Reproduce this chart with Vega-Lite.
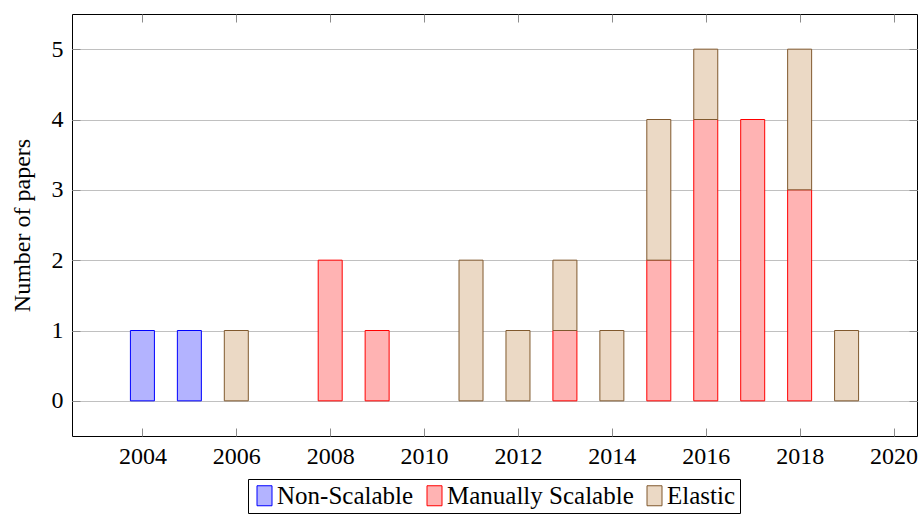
{
  "$schema": "https://vega.github.io/schema/vega-lite/v6.json",
  "width": 845,
  "height": 422,
  "autosize": {"type": "none"},
  "padding": {"left": 72, "top": 14, "right": 2, "bottom": 80},
  "config": {
    "font": "Liberation Serif",
    "view": {"stroke": "black", "strokeWidth": 1},
    "style": {"guide-label": {"font": "Liberation Serif"}, "guide-title": {"font": "Liberation Serif"}},
    "axis": {
      "labelFont": "Liberation Serif",
      "titleFont": "Liberation Serif",
      "labelFontSize": 24,
      "titleFontSize": 24,
      "titleFontWeight": "normal",
      "labelColor": "black",
      "titleColor": "black",
      "domain": false,
      "tickColor": "#8c8c8c",
      "tickSize": -8,
      "gridColor": "#c0c0c0",
      "gridWidth": 1
    },
    "legend": {
      "labelFont": "Liberation Serif",
      "labelFontSize": 25,
      "symbolSize": 400
    }
  },
  "data": {
    "values": [
      {"year": 2004, "category": "Non-Scalable", "papers": 1},
      {"year": 2005, "category": "Non-Scalable", "papers": 1},
      {"year": 2006, "category": "Elastic", "papers": 1},
      {"year": 2008, "category": "Manually Scalable", "papers": 2},
      {"year": 2009, "category": "Manually Scalable", "papers": 1},
      {"year": 2011, "category": "Elastic", "papers": 2},
      {"year": 2012, "category": "Elastic", "papers": 1},
      {"year": 2013, "category": "Manually Scalable", "papers": 1},
      {"year": 2013, "category": "Elastic", "papers": 1},
      {"year": 2014, "category": "Elastic", "papers": 1},
      {"year": 2015, "category": "Manually Scalable", "papers": 2},
      {"year": 2015, "category": "Elastic", "papers": 2},
      {"year": 2016, "category": "Manually Scalable", "papers": 4},
      {"year": 2016, "category": "Elastic", "papers": 1},
      {"year": 2017, "category": "Manually Scalable", "papers": 4},
      {"year": 2018, "category": "Manually Scalable", "papers": 3},
      {"year": 2018, "category": "Elastic", "papers": 2},
      {"year": 2019, "category": "Elastic", "papers": 1}
    ]
  },
  "layer": [
    {
      "mark": {"type": "bar", "width": 24, "strokeWidth": 1, "opacity": 1},
      "encoding": {
        "x": {
          "field": "year",
          "type": "quantitative",
          "scale": {"domain": [2002.5, 2020.5], "nice": false, "zero": false, "padding": 0},
          "axis": {
            "values": [2004, 2006, 2008, 2010, 2012, 2014, 2016, 2018, 2020],
            "format": "d",
            "grid": false,
            "title": null,
            "labelPadding": 16
          }
        },
        "y": {
          "field": "papers",
          "type": "quantitative",
          "stack": "zero",
          "scale": {"domain": [-0.5, 5.5], "nice": false, "zero": false, "padding": 0},
          "axis": {
            "values": [0, 1, 2, 3, 4, 5],
            "grid": true,
            "title": "Number of papers",
            "labelPadding": 17,
            "titlePadding": 17
          }
        },
        "order": {"field": "category", "sort": "descending"},
        "fill": {
          "field": "category",
          "type": "nominal",
          "scale": {
            "domain": ["Non-Scalable", "Manually Scalable", "Elastic"],
            "range": ["#b3b3ff", "#ffb3b3", "#ebd9c5"]
          },
          "legend": {
            "orient": "none",
            "legendX": 176,
            "legendY": 465,
            "direction": "horizontal",
            "title": null,
            "strokeColor": "black",
            "padding": 4,
            "symbolType": "M-0.75,-1H0.75V1H-0.75Z",
            "symbolSize": 400,
            "symbolStrokeWidth": 1,
            "symbolOpacity": 1,
            "labelFont": "Liberation Serif",
            "labelFontSize": 25,
            "labelColor": "black",
            "labelLimit": 400,
            "labelOffset": 0,
            "columnPadding": 8
          }
        },
        "stroke": {
          "field": "category",
          "type": "nominal",
          "scale": {
            "domain": ["Non-Scalable", "Manually Scalable", "Elastic"],
            "range": ["#0000ff", "#ff0000", "#80592e"]
          }
        }
      }
    },
    {
      "mark": {"type": "bar", "width": 24, "opacity": 0},
      "encoding": {
        "x": {
          "field": "year",
          "type": "quantitative",
          "axis": {
            "orient": "top",
            "values": [2004, 2006, 2008, 2010, 2012, 2014, 2016, 2018, 2020],
            "labels": false,
            "grid": false,
            "title": null
          }
        },
        "y": {
          "field": "papers",
          "type": "quantitative",
          "axis": {
            "orient": "right",
            "values": [0, 1, 2, 3, 4, 5],
            "labels": false,
            "grid": false,
            "title": null
          }
        }
      }
    }
  ],
  "resolve": {"axis": {"x": "independent", "y": "independent"}}
}
